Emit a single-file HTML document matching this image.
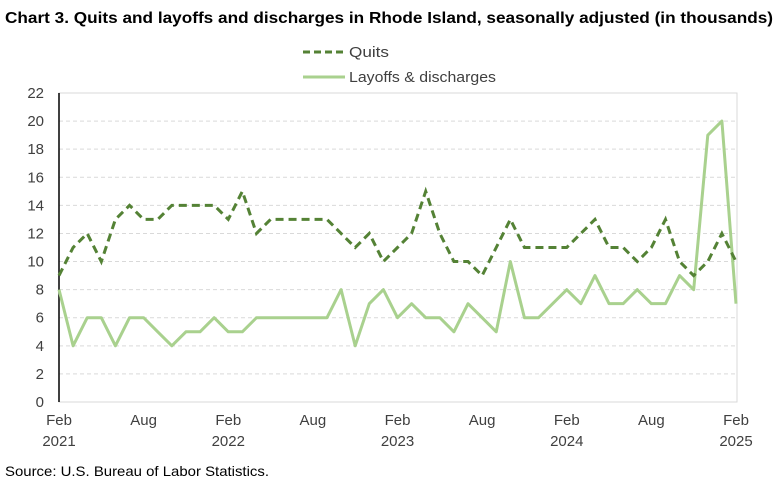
<!DOCTYPE html>
<html><head><meta charset="utf-8"><style>
body{margin:0;background:#fff;font-family:"Liberation Sans",Arial,sans-serif;}
svg text{font-family:"Liberation Sans",Arial,sans-serif;}
</style></head><body>
<svg id="chart" width="780" height="488" xmlns="http://www.w3.org/2000/svg">
<text x="5" y="23" font-size="16" font-weight="bold" fill="#000" textLength="768" lengthAdjust="spacingAndGlyphs">Chart 3. Quits and layoffs and discharges in Rhode Island, seasonally adjusted (in thousands)</text>
<g>
<line x1="303" y1="52" x2="345" y2="52" stroke="#548235" stroke-width="3" stroke-dasharray="7,4"/>
<text x="349" y="57" font-size="15" fill="#404040" textLength="40" lengthAdjust="spacingAndGlyphs">Quits</text>
<line x1="303" y1="77" x2="345" y2="77" stroke="#a9d18e" stroke-width="3"/>
<text x="349" y="82" font-size="15" fill="#404040" textLength="147" lengthAdjust="spacingAndGlyphs">Layoffs &amp; discharges</text>
</g>
<rect x="59" y="93" width="678" height="309" fill="none" stroke="#d9d9d9" stroke-width="1"/>
<g id="grid"></g><g id="yticks"></g><g id="xticks"></g><g id="series"></g>
<text x="5" y="476" font-size="14" fill="#000" textLength="264" lengthAdjust="spacingAndGlyphs">Source: U.S. Bureau of Labor Statistics.</text>
</svg>
<script>
const yTicks=[0,2,4,6,8,10,12,14,16,18,20,22];
const xLabels=[["Feb","2021",0],["Aug","",6],["Feb","2022",12],["Aug","",18],["Feb","2023",24],["Aug","",30],["Feb","2024",36],["Aug","",42],["Feb","2025",48]];
const quits=[9,11,12,10,13,14,13,13,14,14,14,14,13,15,12,13,13,13,13,13,12,11,12,10,11,12,15,12,10,10,9,11,13,11,11,11,11,12,13,11,11,10,11,13,10,9,10,12,10];
const layoffs=[8,4,6,6,4,6,6,5,4,5,5,6,5,5,6,6,6,6,6,6,8,4,7,8,6,7,6,6,5,7,6,5,10,6,6,7,8,7,9,7,7,8,7,7,9,8,19,20,7];
const X0=59,X1=736,Y0=402,Y1=93,NS="http://www.w3.org/2000/svg";
const xs=i=>X0+(X1-X0)*i/48;
const ys=v=>Y0-(Y0-Y1)*v/22;
function mk(t,a,p){const e=document.createElementNS(NS,t);for(const k in a)e.setAttribute(k,a[k]);p.appendChild(e);return e;}
const grid=document.getElementById('grid'),yt=document.getElementById('yticks'),xt=document.getElementById('xticks'),se=document.getElementById('series');
yTicks.forEach(v=>{
 if(v>0&&v<22){const g=mk('line',{x1:X0,x2:X1,y1:ys(v),y2:ys(v),stroke:'#d9d9d9','stroke-dasharray':'4,3'},grid);
 
 }
 const t=mk('text',{x:44,y:ys(v)+5,'font-size':15,fill:'#404040','text-anchor':'end'},yt);t.textContent=v;
 
 
});
const ax=mk('line',{x1:X0,x2:X0,y1:Y1,y2:Y0,stroke:'#000','stroke-width':1.5},yt);


xLabels.forEach(l=>{
 const t=mk('text',{x:xs(l[2]),y:425,'font-size':15,fill:'#404040','text-anchor':'middle'},xt);t.textContent=l[0];
 
 
 if(l[1]){const t2=mk('text',{x:xs(l[2]),y:446,'font-size':15,fill:'#404040','text-anchor':'middle'},xt);t2.textContent=l[1];
 
 }
});
const lp=mk('polyline',{points:layoffs.map((v,i)=>xs(i)+','+ys(v)).join(' '),fill:'none',stroke:'#a9d18e','stroke-width':3,'stroke-linejoin':'round'},se);


const qp=mk('polyline',{points:quits.map((v,i)=>xs(i)+','+ys(v)).join(' '),fill:'none',stroke:'#548235','stroke-width':3,'stroke-dasharray':'8,5'},se);


</script>
</body></html>
